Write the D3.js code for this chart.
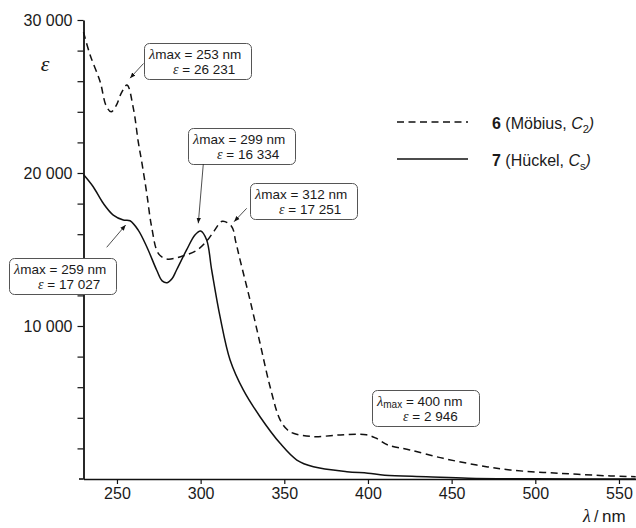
<!DOCTYPE html>
<html><head><meta charset="utf-8">
<script src="https://cdn.jsdelivr.net/npm/d3@7"></script>
<style>
html,body{margin:0;padding:0;background:#fff;}
svg{display:block;}
text{font-family:"Liberation Sans",Arial,sans-serif;fill:#1a1a1a;}
.serif{font-family:"Liberation Serif","DejaVu Serif",serif;font-style:italic;}
</style></head>
<body>
<svg id="chart" width="636" height="528"></svg>
<script>
// ---- data ----
const mobiusNm  = [230,234,240,243.5,246.5,249.5,252.5,256,259.8,262.7,265,267.8,270.7,274.7,279.7,288,298,304,308,313,318.6,321,323.6,329.5,335.5,341.5,347.5,352,355.4,367.4,383.4,399,405,412,425,445,465,485,515,545,560];
const mobiusEps = [29200,27700,25950,24400,24000,24400,25200,25750,24230,22050,20600,18670,16490,14750,14380,14530,14970,15600,16200,16850,16490,15500,14310,11700,8870,6030,3860,3200,2990,2770,2880,2890,2660,2220,1900,1350,915,590,370,200,150];

const huckelNm  = [230,235.8,241.8,247.8,253.8,257.8,262.7,267.8,273.7,277,280,283,285.6,291.6,296.6,300,303.6,306.6,311.6,317.6,325.5,335.5,347.5,357.5,367.4,387.4,400,410,435,460,500,560];
const huckelEps = [19900,19100,18020,17250,16930,16880,16270,15180,13660,12950,12830,13100,13660,14970,15950,16210,15620,13660,10610,7780,5820,4070,2330,1240,800,480,380,250,150,50,10,0];

const xTicks = [250,300,350,400,450,500,550];
const yTicks = [0,2000,4000,6000,8000,10000,12000,14000,16000,18000,20000,22000,24000,26000,28000,30000];
const yLabelTicks = [10000,20000,30000];

const annLambda = ["253","299","312","259","400"];
const annEps    = ["26 231","16 334","17 251","17 027","2 946"];
const annTipNm  = [257.8,298.6,320,255.2,null];
const annTipEps = [26200,16710,16820,16600,null];

const legendIds   = ["6","7"];
const legendNames = ["Möbius","Hückel"];
const legendSubs  = ["2","s"];

// ---- layout ----
const svg = d3.select("#chart");
const x = d3.scaleLinear().domain([230,560]).range([83.5,635.7]);
const y = d3.scaleLinear().domain([0,30000]).range([479,20]);
const fmt = d3.formatLocale({decimal:".",thousands:" ",grouping:[3],currency:["",""]}).format(",");

// x axis
const gx = svg.append("g").attr("transform","translate(0,479)")
  .call(d3.axisBottom(x).tickValues(xTicks).tickSize(5).tickSizeOuter(0).tickPadding(4));
gx.select(".domain").attr("stroke","#111").attr("stroke-width",1.6);
gx.selectAll(".tick line").attr("stroke","#111").attr("stroke-width",1.2);
gx.selectAll(".tick text").attr("font-size",16).attr("font-family","Liberation Sans, Arial, sans-serif").attr("fill","#1a1a1a");
svg.append("line").attr("x1",79).attr("x2",x(230)).attr("y1",479).attr("y2",479).attr("stroke","#111").attr("stroke-width",1.6);

// y axis
const gy = svg.append("g").attr("transform",`translate(${x(230)},0)`)
  .call(d3.axisLeft(y).tickValues(yTicks.filter(v=>v>0)).tickSize(6).tickSizeOuter(0).tickPadding(5)
        .tickFormat(v => yLabelTicks.includes(v) ? fmt(v) : ""));
gy.select(".domain").attr("stroke","#111").attr("stroke-width",1.8);
gy.selectAll(".tick line").attr("stroke","#111").attr("stroke-width",1.2);
gy.selectAll(".tick text").attr("font-size",16).attr("font-family","Liberation Sans, Arial, sans-serif").attr("fill","#1a1a1a");

// axis titles
svg.append("text").attr("class","serif").attr("x",45).attr("y",71).attr("text-anchor","middle").attr("font-size",22).text("ε");
svg.append("text").attr("class","serif").attr("x",583).attr("y",522).attr("font-size",18).text("λ");
svg.append("text").attr("x",594).attr("y",522).attr("font-size",16).text("/");
svg.append("text").attr("x",602).attr("y",522).attr("font-size",17).text("nm");

// curves
const line = d3.line().x(d=>x(d[0])).y(d=>y(d[1])).curve(d3.curveCatmullRom.alpha(0.5));
const mob = mobiusNm.map((v,i)=>[v,mobiusEps[i]]);
const huc = huckelNm.map((v,i)=>[v,huckelEps[i]]);
svg.append("path").datum(mob).attr("d",line).attr("fill","none").attr("stroke","#111").attr("stroke-width",1.5).attr("stroke-dasharray","7,4.5");
svg.append("path").datum(huc).attr("d",line).attr("fill","none").attr("stroke","#111").attr("stroke-width",1.5);

// annotations
const boxPos = [[144,43],[188,128],[250,183],[9,258],[372,390]];
const arrowStart = [[143.5,63.5],[203.3,164],[246.7,208.3],[106.7,247.3],null];
svg.append("defs").append("marker").attr("id","arr").attr("viewBox","0 0 10 10").attr("refX",10).attr("refY",5)
  .attr("markerWidth",7).attr("markerHeight",7).attr("orient","auto")
  .append("path").attr("d","M0,1 L10,5 L0,9 Z").attr("fill","#111");
annLambda.forEach((lam,i)=>{
  const [bx,by] = boxPos[i];
  const g = svg.append("g");
  g.append("rect").attr("x",bx+0.5).attr("y",by+0.5).attr("width",107).attr("height",36).attr("rx",5)
    .attr("fill","#fff").attr("stroke","#555").attr("stroke-width",1);
  const t1 = g.append("text").attr("x",bx+5).attr("y",by+15.5).attr("font-size",13.5);
  t1.append("tspan").attr("class","serif").attr("font-size",14.5).text("λ");
  if (i===4) {
    t1.append("tspan").attr("font-size",10).attr("dy",2.5).text("max");
    t1.append("tspan").attr("dy",-2.5).text(" = "+lam+" nm");
  } else {
    t1.append("tspan").text("max = "+lam+" nm");
  }
  const t2 = g.append("text").attr("x",bx+(i===4?31:29)).attr("y",by+31).attr("font-size",13.5);
  t2.append("tspan").attr("class","serif").attr("font-size",14).text("ε");
  t2.append("tspan").text(" = "+annEps[i]);
  if (arrowStart[i]) {
    svg.append("line").attr("x1",arrowStart[i][0]).attr("y1",arrowStart[i][1])
      .attr("x2",x(annTipNm[i])).attr("y2",y(annTipEps[i]))
      .attr("stroke","#222").attr("stroke-width",0.8).attr("marker-end","url(#arr)");
  }
});

// legend
const legY = [122,159];
legendIds.forEach((id,i)=>{
  svg.append("line").attr("x1",397).attr("x2",468).attr("y1",legY[i]).attr("y2",legY[i])
    .attr("stroke","#111").attr("stroke-width",1.5).attr("stroke-dasharray", i===0?"7,4.5":null);
  const t = svg.append("text").attr("x",492).attr("y",legY[i]+7).attr("font-size",16);
  t.append("tspan").attr("font-weight","bold").text(id);
  t.append("tspan").text(" ("+legendNames[i]+", ");
  t.append("tspan").attr("font-style","italic").text("C");
  t.append("tspan").attr("font-size",11).attr("dy",4).text(legendSubs[i]);
  t.append("tspan").attr("dy",-4).attr("font-style","italic").text(")");
});
</script>
</body></html>
